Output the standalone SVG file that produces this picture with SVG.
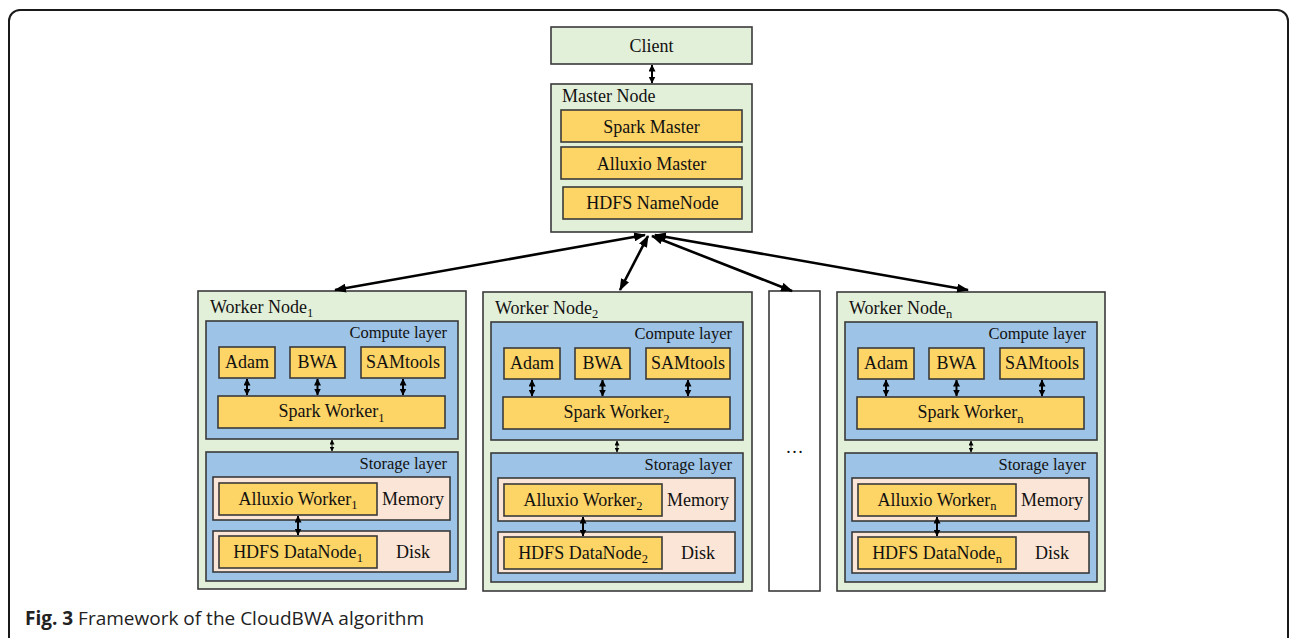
<svg xmlns="http://www.w3.org/2000/svg" width="1296" height="638" viewBox="0 0 1296 638">
<style>
.g{fill:#e2efd9;stroke:#3a3a3a;stroke-width:1.6}
.y{fill:#fdd466;stroke:#3a3a3a;stroke-width:1.6}
.b{fill:#9dc3e6;stroke:#3a3a3a;stroke-width:1.6}
.p{fill:#fbe5d6;stroke:#3a3a3a;stroke-width:1.6}
.w{fill:#ffffff;stroke:#3a3a3a;stroke-width:1.6}
text{font-family:"Liberation Serif","Times New Roman",serif;fill:#111;font-size:18px}
.m{text-anchor:middle}
.e{text-anchor:end;font-size:16.5px}
.big{stroke:#000;stroke-width:2.6;fill:none;marker-start:url(#ah);marker-end:url(#ah)}
.sm{stroke:#000;stroke-width:2;fill:none;marker-start:url(#as);marker-end:url(#as)}
.th{stroke:#000;stroke-width:1;fill:none;marker-start:url(#at);marker-end:url(#at)}
</style>
<defs>
<marker id="ah" markerUnits="userSpaceOnUse" markerWidth="12" markerHeight="9" refX="11" refY="4.5" orient="auto-start-reverse"><path d="M0,0 L12,4.5 L0,9 z" fill="#000"/></marker>
<marker id="as" markerUnits="userSpaceOnUse" markerWidth="7" markerHeight="7" refX="6.5" refY="3.5" orient="auto-start-reverse"><path d="M0,0 L7,3.5 L0,7 z" fill="#000"/></marker>
<marker id="at" markerUnits="userSpaceOnUse" markerWidth="5" markerHeight="5" refX="4.5" refY="2.5" orient="auto-start-reverse"><path d="M0,0 L5,2.5 L0,5 z" fill="#000"/></marker>
</defs>
<rect x="0" y="0" width="1296" height="638" fill="#ffffff"/>
<rect x="9" y="10" width="1279" height="640" rx="11" fill="none" stroke="#1a1a1a" stroke-width="2"/>

<g id="client">
<rect class="g" x="551" y="27" width="201" height="37"/>
<text class="m" x="651.5" y="52">Client</text>
</g>

<g id="master">
<rect class="g" x="551" y="84" width="201" height="148"/>
<text x="562" y="102">Master Node</text>
<rect class="y" x="561" y="110" width="181" height="32"/>
<text class="m" x="651.5" y="133">Spark Master</text>
<rect class="y" x="561" y="147" width="181" height="32"/>
<text class="m" x="651.5" y="170">Alluxio Master</text>
<rect class="y" x="563" y="187" width="179" height="32"/>
<text class="m" x="652.5" y="209">HDFS NameNode</text>
</g>

<g id="worker1">
<rect class="g" x="198" y="291" width="268" height="298"/>
<text x="210" y="313">Worker Node<tspan font-size="12.5" dy="4">1</tspan></text>
<rect class="b" x="206" y="321" width="252" height="118"/>
<text class="e" x="447" y="338">Compute layer</text>
<rect class="y" x="219" y="347" width="56" height="31"/>
<text class="m" x="247" y="368">Adam</text>
<rect class="y" x="290" y="347" width="55" height="31"/>
<text class="m" x="317.5" y="368">BWA</text>
<rect class="y" x="361" y="347" width="84" height="31"/>
<text class="m" x="403" y="368">SAMtools</text>
<rect class="y" x="218" y="396" width="227" height="32"/>
<text class="m" x="331.5" y="417">Spark Worker<tspan font-size="12.5" dy="5">1</tspan></text>
<rect class="b" x="206" y="452" width="252" height="129"/>
<text class="e" x="447" y="469">Storage layer</text>
<rect class="p" x="213" y="477" width="237" height="43"/>
<rect class="y" x="219" y="483" width="158" height="32"/>
<text class="m" x="298" y="505">Alluxio Worker<tspan font-size="12.5" dy="4">1</tspan></text>
<text class="m" x="413" y="505" font-size="17.5">Memory</text>
<rect class="p" x="213" y="531" width="237" height="41"/>
<rect class="y" x="219" y="536" width="158" height="32"/>
<text class="m" x="298" y="558">HDFS DataNode<tspan font-size="12.5" dy="4">1</tspan></text>
<text class="m" x="413" y="558" font-size="17.5">Disk</text>
</g>

<g id="worker2" transform="translate(285,1)">
<rect class="g" x="198" y="291" width="269" height="299"/>
<text x="210" y="313">Worker Node<tspan font-size="12.5" dy="4">2</tspan></text>
<rect class="b" x="206" y="321" width="252" height="118"/>
<text class="e" x="447" y="338">Compute layer</text>
<rect class="y" x="219" y="347" width="56" height="31"/>
<text class="m" x="247" y="368">Adam</text>
<rect class="y" x="290" y="347" width="55" height="31"/>
<text class="m" x="317.5" y="368">BWA</text>
<rect class="y" x="361" y="347" width="84" height="31"/>
<text class="m" x="403" y="368">SAMtools</text>
<rect class="y" x="218" y="396" width="227" height="32"/>
<text class="m" x="331.5" y="417">Spark Worker<tspan font-size="12.5" dy="5">2</tspan></text>
<rect class="b" x="206" y="452" width="252" height="129"/>
<text class="e" x="447" y="469">Storage layer</text>
<rect class="p" x="213" y="477" width="237" height="43"/>
<rect class="y" x="219" y="483" width="158" height="32"/>
<text class="m" x="298" y="505">Alluxio Worker<tspan font-size="12.5" dy="4">2</tspan></text>
<text class="m" x="413" y="505" font-size="17.5">Memory</text>
<rect class="p" x="213" y="531" width="237" height="41"/>
<rect class="y" x="219" y="536" width="158" height="32"/>
<text class="m" x="298" y="558">HDFS DataNode<tspan font-size="12.5" dy="4">2</tspan></text>
<text class="m" x="413" y="558" font-size="17.5">Disk</text>
</g>

<g id="more">
<rect class="w" x="769" y="291" width="51" height="300"/>
<text class="m" x="794.5" y="453" font-size="22">…</text>
</g>

<g id="workern" transform="translate(639,1)">
<rect class="g" x="198" y="291" width="268" height="299"/>
<text x="210" y="313">Worker Node<tspan font-size="12.5" dy="4">n</tspan></text>
<rect class="b" x="206" y="321" width="252" height="118"/>
<text class="e" x="447" y="338">Compute layer</text>
<rect class="y" x="219" y="347" width="56" height="31"/>
<text class="m" x="247" y="368">Adam</text>
<rect class="y" x="290" y="347" width="55" height="31"/>
<text class="m" x="317.5" y="368">BWA</text>
<rect class="y" x="361" y="347" width="84" height="31"/>
<text class="m" x="403" y="368">SAMtools</text>
<rect class="y" x="218" y="396" width="227" height="32"/>
<text class="m" x="331.5" y="417">Spark Worker<tspan font-size="12.5" dy="5">n</tspan></text>
<rect class="b" x="206" y="452" width="252" height="129"/>
<text class="e" x="447" y="469">Storage layer</text>
<rect class="p" x="213" y="477" width="237" height="43"/>
<rect class="y" x="219" y="483" width="158" height="32"/>
<text class="m" x="298" y="505">Alluxio Worker<tspan font-size="12.5" dy="4">n</tspan></text>
<text class="m" x="413" y="505" font-size="17.5">Memory</text>
<rect class="p" x="213" y="531" width="237" height="41"/>
<rect class="y" x="219" y="536" width="158" height="32"/>
<text class="m" x="298" y="558">HDFS DataNode<tspan font-size="12.5" dy="4">n</tspan></text>
<text class="m" x="413" y="558" font-size="17.5">Disk</text>
</g>

<g id="connectors">
<line class="sm" x1="652" y1="65" x2="652" y2="83"/>
<line class="big" x1="645" y1="235" x2="335" y2="290"/>
<line class="big" x1="648" y1="236" x2="620" y2="290"/>
<line class="big" x1="652" y1="236" x2="792" y2="291"/>
<line class="big" x1="655" y1="235" x2="968" y2="290"/>
<g id="w1c">
<line class="sm" x1="247" y1="379" x2="247" y2="395"/>
<line class="sm" x1="317.5" y1="379" x2="317.5" y2="395"/>
<line class="sm" x1="403" y1="379" x2="403" y2="395"/>
<line class="th" x1="332" y1="440" x2="332" y2="451"/>
<line class="sm" x1="298" y1="516" x2="298" y2="535"/>
</g>
<g transform="translate(285,1)">
<line class="sm" x1="247" y1="379" x2="247" y2="395"/>
<line class="sm" x1="317.5" y1="379" x2="317.5" y2="395"/>
<line class="sm" x1="403" y1="379" x2="403" y2="395"/>
<line class="th" x1="332" y1="440" x2="332" y2="451"/>
<line class="sm" x1="298" y1="516" x2="298" y2="535"/>
</g>
<g transform="translate(639,1)">
<line class="sm" x1="247" y1="379" x2="247" y2="395"/>
<line class="sm" x1="317.5" y1="379" x2="317.5" y2="395"/>
<line class="sm" x1="403" y1="379" x2="403" y2="395"/>
<line class="th" x1="332" y1="440" x2="332" y2="451"/>
<line class="sm" x1="298" y1="516" x2="298" y2="535"/>
</g>
</g>

<text x="25" y="625" style="font-family:'Open Sans','Noto Sans',sans-serif;font-size:19px;fill:#222"><tspan font-weight="bold">Fig. 3</tspan> Framework of the CloudBWA algorithm</text>
</svg>
